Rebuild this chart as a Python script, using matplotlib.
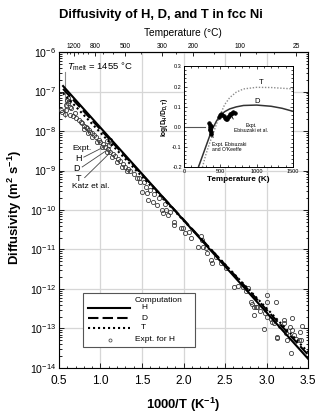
"""
Arrhenius plot of H, D and T diffusivity in fcc Ni with an isotope-ratio inset.
"""
import matplotlib
matplotlib.use("Agg")
import matplotlib.pyplot as plt
from matplotlib.patches import Rectangle
from matplotlib.ticker import FixedLocator, MultipleLocator, LogLocator, NullFormatter
import numpy as np

plt.rcParams["font.family"] = ["Liberation Sans", "DejaVu Sans"]
plt.rcParams["mathtext.fontset"] = "custom"
plt.rcParams["mathtext.rm"] = "Liberation Sans"
plt.rcParams["mathtext.it"] = "Liberation Sans:italic"
plt.rcParams["mathtext.bf"] = "Liberation Sans:bold"

# --- computed Arrhenius lines (x = 1000/T) ---
calc_x = [0.55, 3.50]
calc_H = [1.38e-7, 1.70e-14]
calc_D = [1.17e-7, 2.14e-14]
calc_T = [9.1e-8, 2.5e-14]

# --- experimental data for H (x = 1000/T, log10 D) ---
expt_x = [
    0.52, 0.54, 0.57, 0.58, 0.59, 0.60, 0.61, 0.61, 0.62, 0.63, 0.63, 0.65, 0.67, 0.69, 0.71, 0.74,
    0.76, 0.78, 0.80, 0.82, 0.84, 0.86, 0.88, 0.90, 0.92, 0.95, 0.98, 1.00, 1.03, 1.06, 1.09, 1.12,
    1.15, 1.18, 1.21, 1.24, 1.27, 1.30, 1.33, 1.36, 1.40, 1.44,
    0.80, 0.85, 0.90, 0.96, 1.02, 1.08, 1.14, 1.20, 1.26, 1.32,
    1.08, 1.11, 1.13, 1.10,
    1.46, 1.48, 1.50, 1.52, 1.55, 1.56, 1.57, 1.60, 1.63, 1.65, 1.68, 1.70, 1.74, 1.75, 1.78, 1.79,
    1.81, 1.84, 1.89, 1.89, 1.97, 1.99, 2.02, 2.06, 2.09, 2.17, 2.21, 2.22, 2.23, 2.27, 2.28, 2.33,
    2.34, 2.39, 2.45, 2.51,
    2.61, 2.65, 2.71, 2.75, 2.77, 2.81, 2.82, 2.85, 2.87, 2.85, 2.89, 2.92, 3.00, 3.00, 2.98, 3.00,
    2.97, 3.05, 3.07, 3.09, 3.11, 3.13, 3.13, 3.16, 3.21, 3.21, 3.23, 3.25, 3.28, 3.29, 3.31, 3.31,
    3.33, 3.35, 3.39, 3.40, 3.41, 3.43,
]
expt_log10_D = [
    -7.47, -7.52, -7.58, -7.35, -7.47, -7.22, -7.17, -7.30, -7.25, -7.38, -7.59, -7.42, -7.62, -7.55, -7.66, -7.72,
    -7.78, -7.80, -7.86, -7.90, -7.93, -7.98, -8.02, -8.05, -8.09, -8.16, -8.22, -8.27, -8.33, -8.40, -8.45, -8.52,
    -8.57, -8.64, -8.70, -8.76, -8.83, -8.90, -8.96, -9.02, -9.10, -9.18,
    -7.95, -8.05, -8.15, -8.28, -8.40, -8.52, -8.65, -8.78, -8.90, -9.02,
    -8.25, -8.22, -8.30, -8.35,
    -9.20, -9.28, -9.54, -9.30, -9.42, -9.57, -9.75, -9.50, -9.79, -9.60, -9.87, -9.70, -10.00, -10.08, -9.85, -10.00,
    -10.13, -10.05, -10.30, -10.38, -10.46, -10.46, -10.57, -10.56, -10.72, -10.93, -10.66, -10.76, -10.93, -10.97, -11.08, -11.27,
    -11.33, -11.20, -11.35, -11.48,
    -11.94, -11.92, -11.94, -12.06, -11.98, -12.32, -12.37, -12.45, -12.45, -12.66, -12.45, -12.55, -12.15, -12.32, -12.62, -12.70,
    -13.02, -12.75, -12.83, -12.87, -12.32, -13.21, -13.25, -12.95, -12.78, -12.87, -13.12, -13.30, -12.97, -13.61, -12.74, -13.04,
    -13.16, -13.26, -13.29, -13.10, -13.29, -12.95,
]

# melting point of Ni
t_melt_C = 1455

# top axis temperature ticks (deg C)
top_ticks_C = [1200, 800, 500, 300, 200, 100, 25]
top_minor_C = [1400, 1300, 1100, 1000, 900, 700, 600, 400, 250, 150, 75, 50]

# --- inset: log10(D_H / D_D) and log10(D_H / D_T) vs temperature (K) ---
ratio_D_temp = [200, 240, 280, 320, 360, 400, 450, 500, 560, 630, 720, 820, 1000, 1200, 1350, 1500]
ratio_D = [-0.200, -0.160, -0.120, -0.080, -0.040, -0.005, 0.030, 0.055, 0.075, 0.089, 0.099, 0.106, 0.108, 0.102, 0.092, 0.077]
ratio_T_temp = [255, 300, 350, 400, 450, 500, 560, 630, 720, 820, 1000, 1200, 1500]
ratio_T = [-0.200, -0.140, -0.085, -0.035, 0.015, 0.060, 0.110, 0.145, 0.172, 0.188, 0.196, 0.195, 0.188]
classical_temp = [0, 290]
classical_ratio = [0.0, 0.0]
ebis_okeeffe_temp = [350, 355, 360, 362, 365, 368, 370, 372]
ebis_okeeffe_ratio = [0.020, 0.010, 0.000, -0.015, -0.010, -0.025, -0.035, 0.005]
ebis_temp = [480, 500, 515, 530, 545, 560, 575, 590, 600, 615, 630, 645, 660, 680, 700]
ebis_ratio = [0.050, 0.058, 0.062, 0.060, 0.055, 0.045, 0.040, 0.038, 0.048, 0.055, 0.062, 0.066, 0.070, 0.072, 0.068]


def x_to_celsius(x):
    x = np.asarray(x, dtype=float)
    with np.errstate(divide="ignore"):
        return 1000.0 / x - 273.15


def celsius_to_x(t):
    t = np.asarray(t, dtype=float)
    with np.errstate(divide="ignore"):
        return 1000.0 / (t + 273.15)


fig = plt.figure(figsize=(3.22, 4.2), dpi=100)
ax = fig.add_axes([0.183, 0.124, 0.774, 0.752])

ax.set_yscale("log")
ax.set_xlim(0.5, 3.5)
ax.set_ylim(1e-14, 1e-6)
ax.grid(True, which="major", color="#d6d6d6", lw=0.9)
ax.set_axisbelow(True)

ax.xaxis.set_major_locator(MultipleLocator(0.5))
ax.xaxis.set_minor_locator(MultipleLocator(0.1))
ax.yaxis.set_major_locator(LogLocator(base=10, numticks=20))
ax.yaxis.set_minor_locator(LogLocator(base=10, subs=np.arange(2, 10), numticks=20))
ax.yaxis.set_minor_formatter(NullFormatter())
ax.tick_params(which="both", direction="in", right=True, top=False, width=0.6)
ax.tick_params(which="major", length=3.5)
ax.tick_params(which="minor", length=1.8)
ax.tick_params(axis="x", labelsize=8.6, pad=5)
ax.tick_params(axis="y", labelsize=7.6, pad=2)
for spine in ax.spines.values():
    spine.set_linewidth(0.8)

# temperature scale on top
sec = ax.secondary_xaxis("top", functions=(x_to_celsius, celsius_to_x))
sec.xaxis.set_major_locator(FixedLocator(top_ticks_C))
sec.xaxis.set_minor_locator(FixedLocator(top_minor_C))
sec.set_xticklabels([str(t) for t in top_ticks_C])
sec.tick_params(which="both", direction="in", labelsize=4.8, pad=1.5, width=0.6)
sec.tick_params(which="major", length=3)
sec.tick_params(which="minor", length=1.6)
sec.spines["top"].set_linewidth(0.8)

# experimental points and computed lines
ax.plot(expt_x, 10.0 ** np.array(expt_log10_D), ls="none", marker="o", ms=3.0,
        mfc="none", mec="#3a3a3a", mew=0.6, zorder=3)
ax.plot(calc_x, calc_H, color="k", lw=1.5, zorder=4)
ax.plot(calc_x, calc_D, color="k", lw=1.5, ls=(0, (5, 2)), zorder=4)
ax.plot(calc_x, calc_T, color="k", lw=1.5, ls=(0, (1, 1.4)), zorder=4)

# melting temperature marker
x_melt = 1000.0 / (t_melt_C + 273.15)
ax.plot([x_melt, x_melt], [3.2e-7, 2.3e-8], color="#8a8a8a", lw=0.8, zorder=2)
ax.text(x_melt + 0.015, 10 ** -6.37, r"$T_{\rm melt}$ = %d °C" % t_melt_C,
        fontsize=6.8, va="center", ha="left")

# Katz et al. labels with leader lines
ax.text(0.78, 10 ** -8.44, "Expt.", fontsize=6, ha="center", va="center")
for lab, (lx, ly), (px, py) in [
    ("H", (0.73, -8.69), (1.09, -8.35)),
    ("D", (0.71, -8.94), (1.11, -8.44)),
    ("T", (0.74, -9.21), (1.13, -8.52)),
]:
    ax.text(lx, 10 ** ly, lab, fontsize=6.5, ha="center", va="center")
    ax.plot([lx + 0.07, px], [10 ** (ly + 0.03), 10 ** py], color="#444444", lw=0.6, zorder=3)
ax.text(0.88, 10 ** -9.41, "Katz et al.", fontsize=6, ha="center", va="center")

# legend box
lx0, ly0, lw_, lh_ = 0.096, 0.066, 0.450, 0.171
ax.add_patch(Rectangle((lx0, ly0), lw_, lh_, transform=ax.transAxes, facecolor="white",
                       edgecolor="#555555", lw=0.8, zorder=6))
ax.text(0.305, 0.215, "Computation", transform=ax.transAxes, fontsize=6, va="center", zorder=7)
for yy, ls, lab in [(0.190, "-", "H"), (0.158, (0, (5, 2)), "D"), (0.127, (0, (1, 1.4)), "T")]:
    ax.plot([0.116, 0.285], [yy, yy], transform=ax.transAxes, color="k", lw=1.5, ls=ls, zorder=7)
    ax.text(0.330, yy, lab, transform=ax.transAxes, fontsize=6, va="center", zorder=7)
ax.plot([0.205], [0.089], transform=ax.transAxes, marker="o", ms=2.2, mfc="none",
        mec="#555555", mew=0.6, ls="none", zorder=7)
ax.text(0.305, 0.089, "Expt. for H", transform=ax.transAxes, fontsize=6, va="center", zorder=7)

# titles and axis labels
fig.text(0.5, 0.964, "Diffusivity of H, D, and T in fcc Ni", ha="center", va="center",
         fontsize=9.4, fontweight="bold")
fig.text(0.568, 0.921, "Temperature (°C)", ha="center", va="center", fontsize=7.3)
fig.text(0.568, 0.036, r"1000/T (K$^{\mathbf{-1}}$)", ha="center", va="center",
         fontsize=9.4, fontweight="bold")
fig.text(0.047, 0.505, r"Diffusivity (m$^{\mathbf{2}}$ s$^{\mathbf{-1}}$)", ha="center", va="center",
         rotation=90, fontsize=9.4, fontweight="bold")

# inset: isotope ratio
axi = fig.add_axes([0.571, 0.602, 0.339, 0.240])
axi.set_facecolor("white")
axi.set_xlim(0, 1500)
axi.set_ylim(-0.2, 0.3)
axi.xaxis.set_major_locator(MultipleLocator(500))
axi.xaxis.set_minor_locator(MultipleLocator(100))
axi.yaxis.set_major_locator(MultipleLocator(0.1))
axi.yaxis.set_minor_locator(MultipleLocator(0.02))
axi.yaxis.set_major_formatter(lambda v, pos: f"{v:.1f}")
axi.tick_params(which="both", direction="in", top=True, right=True, labelsize=4, pad=1.5, width=0.5)
axi.tick_params(which="major", length=2.2)
axi.tick_params(which="minor", length=1.1)
for spine in axi.spines.values():
    spine.set_linewidth(0.7)

axi.plot(classical_temp, classical_ratio, color="#555555", lw=0.8)
axi.plot(ratio_T_temp, ratio_T, color="#8c8c8c", lw=1.0, ls=(0, (1, 1.2)))
axi.plot(ratio_D_temp, ratio_D, color="#333333", lw=1.1)
axi.plot(ebis_okeeffe_temp, ebis_okeeffe_ratio, ls="none", marker="o", ms=2.6,
         mfc="k", mec="k", mew=0.5, zorder=4)
axi.plot(ebis_temp, ebis_ratio, ls="none", marker="o", ms=2.6,
         mfc="k", mec="k", mew=0.5, zorder=4)

axi.text(1067, 0.222, "T", fontsize=5.5, ha="center", va="center")
axi.text(1000, 0.128, "D", fontsize=5.5, ha="center", va="center")
axi.text(922, -0.006, "Expt.\nEbisuzaki et al.", fontsize=3.6, ha="center", va="center",
         linespacing=1.1)
axi.plot([678, 633], [0.039, 0.068], color="k", lw=0.6)
axi.text(381, -0.099, "Expt. Ebisuzaki\nand O'Keeffe", fontsize=3.6, ha="left", va="center",
         linespacing=1.1)
axi.plot([403, 358], [-0.052, -0.010], color="k", lw=0.6)

axi.set_xlabel("Temperature (K)", fontsize=5.9, fontweight="bold", labelpad=1.5)
axi.set_ylabel(r"log(D$_{\mathbf{H}}$/D$_{\mathbf{D,T}}$)", fontsize=4.8, fontweight="bold", labelpad=1.5)

fig.savefig("out.png", dpi=100)
